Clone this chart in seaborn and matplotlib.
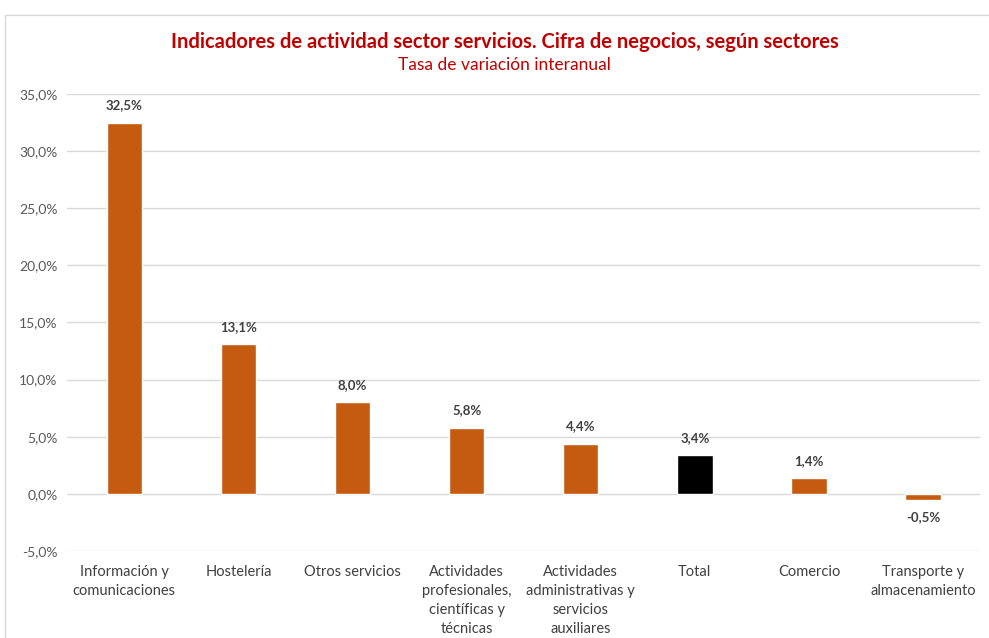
import matplotlib
matplotlib.use("Agg")
import matplotlib.pyplot as plt
import matplotlib.patches as mpatches
import seaborn as sns
import pandas as pd
from matplotlib.ticker import FuncFormatter

sectores = [
    "Información y\ncomunicaciones",
    "Hostelería",
    "Otros servicios",
    "Actividades\nprofesionales,\ncientíficas y\ntécnicas",
    "Actividades\nadministrativas y\nservicios\nauxiliares",
    "Total",
    "Comercio",
    "Transporte y\nalmacenamiento",
]
variacion = [32.5, 13.1, 8.0, 5.8, 4.4, 3.4, 1.4, -0.5]
colores = ["#C55A11"] * 5 + ["#000000"] + ["#C55A11"] * 2

sns.set_style("white")
plt.rcParams["font.family"] = ["Lato", "DejaVu Sans"]

df = pd.DataFrame({"sector": sectores, "valor": variacion})

fig = plt.figure(figsize=(9.89, 6.38), dpi=100)
ax = fig.add_axes([0.068, 0.1364, 0.923, 0.7163])

sns.barplot(data=df, x="sector", y="valor", hue="sector", palette=colores,
            legend=False, width=0.31, saturation=1, ax=ax, zorder=3)

ax.set_ylim(-5, 35)
ax.set_yticks(range(-5, 36, 5))
ax.yaxis.set_major_formatter(FuncFormatter(lambda v, p: f"{v:.1f}%".replace(".", ",")))
ax.grid(axis="y", color="#D9D9D9", linewidth=1, zorder=0)
for s in ax.spines.values():
    s.set_visible(False)
ax.tick_params(axis="both", length=0, colors="#595959")
ax.tick_params(axis="y", pad=7, labelsize=10)
ax.tick_params(axis="x", pad=10, labelsize=10.5)
for lab in ax.get_xticklabels():
    lab.set_color("#404040")
    lab.set_linespacing(1.45)
ax.set_xlabel("")
ax.set_ylabel("")

for i, v in enumerate(variacion):
    txt = f"{v:.1f}%".replace(".", ",")
    if v >= 0:
        ax.annotate(txt, (i, v), xytext=(0, 8), textcoords="offset points",
                    ha="center", va="bottom", fontsize=9.5, fontweight="bold", color="#404040")
    else:
        ax.annotate(txt, (i, v), xytext=(0, -8), textcoords="offset points",
                    ha="center", va="top", fontsize=9.5, fontweight="bold", color="#404040")

fig.text(0.51, 0.934, "Indicadores de actividad sector servicios. Cifra de negocios, según sectores",
         ha="center", va="center", fontsize=14.5, fontweight="bold", color="#C00000")
fig.text(0.51, 0.898, "Tasa de variación interanual", ha="center", va="center",
         fontsize=12.5, color="#C00000")

fig.patches.append(mpatches.Rectangle((5 / 989, -0.01), 1.0, 1 - 15 / 638 + 0.01,
                                      transform=fig.transFigure, fill=False,
                                      edgecolor="#D9D9D9", linewidth=1))

fig.savefig("out.png", dpi=100)
